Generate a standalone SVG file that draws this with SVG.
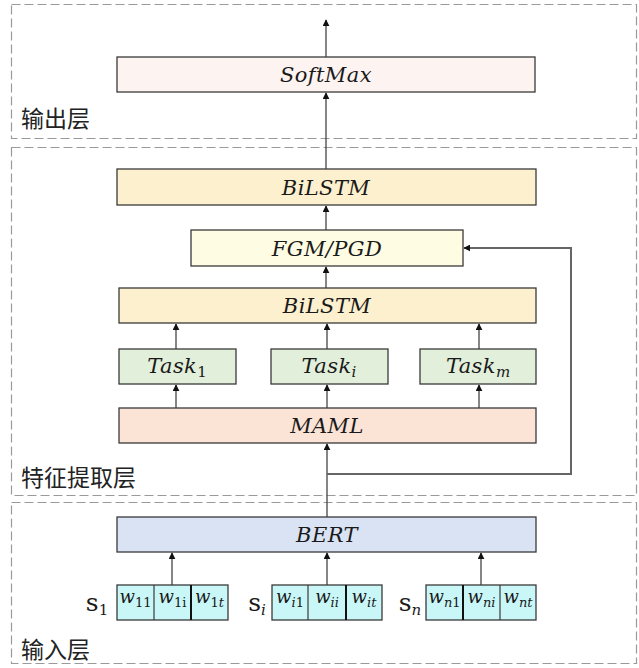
<svg xmlns="http://www.w3.org/2000/svg" width="639" height="668" viewBox="0 0 639 668">
  <style>
    .layer { fill: none; stroke: #9a9a9a; stroke-width: 1.2; stroke-dasharray: 9 4; }
    .box { stroke: #3a3a3a; stroke-width: 1.3; }
    .math { font-family: "DejaVu Serif", "Liberation Serif", serif; font-style: italic; font-size: 21px; letter-spacing: 0.4px; fill: #1a1a1a; text-anchor: middle; }
    .up { font-style: normal; }
    .sub { font-size: 15px; letter-spacing: 0; }
    .wsub { font-size: 13px; }
    .cell { font-family: "DejaVu Serif", "Liberation Serif", serif; font-style: italic; font-size: 18px; fill: #1a1a1a; text-anchor: middle; }
    .sname { font-family: "DejaVu Serif", "Liberation Serif", serif; font-size: 25px; fill: #1a1a1a; text-anchor: middle; }
    .lbl { font-family: "Noto Sans CJK SC", sans-serif; font-size: 23px; fill: #222; }
    .conn { fill: none; stroke: #444; stroke-width: 1.3; }
    .fb { fill: none; stroke: #666; stroke-width: 2; }
  </style>
  <defs>
    <marker id="arrow" viewBox="0 0 10 10" refX="9" refY="5" markerWidth="7" markerHeight="7" markerUnits="userSpaceOnUse" orient="auto">
      <path d="M0,0 L10,5 L0,10 z" fill="#111"/>
    </marker>
  </defs>

  <rect width="639" height="668" fill="#ffffff"/>

  <!-- layer frames -->
  <g id="layer-output">
    <rect class="layer" x="11.5" y="4.5" width="625" height="134"/>
    <text class="lbl" x="21" y="127">输出层</text>
  </g>
  <g id="layer-feature">
    <rect class="layer" x="11.5" y="147.5" width="625" height="348"/>
    <text class="lbl" x="21" y="486">特征提取层</text>
  </g>
  <g id="layer-input">
    <rect class="layer" x="11.5" y="502.5" width="625" height="161"/>
    <text class="lbl" x="21" y="658">输入层</text>
  </g>

  <!-- connectors -->
  <g id="connectors">
    <line class="conn" x1="326" y1="57" x2="326" y2="20" marker-end="url(#arrow)"/>
    <line class="conn" x1="326" y1="169" x2="326" y2="93" marker-end="url(#arrow)"/>
    <line class="conn" x1="326" y1="230" x2="326" y2="206" marker-end="url(#arrow)"/>
    <line class="conn" x1="326" y1="288" x2="326" y2="267" marker-end="url(#arrow)"/>
    <line class="conn" x1="176" y1="349" x2="176" y2="324" marker-end="url(#arrow)"/>
    <line class="conn" x1="327" y1="349" x2="327" y2="324" marker-end="url(#arrow)"/>
    <line class="conn" x1="479" y1="349" x2="479" y2="324" marker-end="url(#arrow)"/>
    <line class="conn" x1="176" y1="408" x2="176" y2="385" marker-end="url(#arrow)"/>
    <line class="conn" x1="327" y1="408" x2="327" y2="385" marker-end="url(#arrow)"/>
    <line class="conn" x1="479" y1="408" x2="479" y2="385" marker-end="url(#arrow)"/>
    <line class="conn" x1="327" y1="517" x2="327" y2="444" marker-end="url(#arrow)"/>
    <polyline class="fb" points="327,474 571,474 571,248 464,248" marker-end="url(#arrow)"/>
    <line class="conn" x1="172" y1="585" x2="172" y2="553" marker-end="url(#arrow)"/>
    <line class="conn" x1="327" y1="585" x2="327" y2="553" marker-end="url(#arrow)"/>
    <line class="conn" x1="481" y1="585" x2="481" y2="553" marker-end="url(#arrow)"/>
  </g>

  <!-- nodes -->
  <g id="softmax">
    <rect class="box" x="117" y="57" width="418" height="35" fill="#fdf3f1"/>
    <text class="math" x="326" y="82">SoftMax</text>
  </g>
  <g id="bilstm-top">
    <rect class="box" x="117" y="169" width="419" height="36" fill="#fdf0cf"/>
    <text class="math" x="326" y="195">BiLSTM</text>
  </g>
  <g id="fgm-pgd">
    <rect class="box" x="191" y="230" width="272" height="36" fill="#fefce3"/>
    <text class="math" x="327" y="256">FGM/PGD</text>
  </g>
  <g id="bilstm">
    <rect class="box" x="119" y="288" width="417" height="35" fill="#fdf0cf"/>
    <text class="math" x="327" y="313">BiLSTM</text>
  </g>
  <g id="task-1">
    <rect class="box" x="119" y="349" width="117" height="35" fill="#e2efda"/>
    <text class="math" x="177" y="373">Task<tspan class="sub up" dy="4">1</tspan></text>
  </g>
  <g id="task-i">
    <rect class="box" x="271" y="349" width="117" height="35" fill="#e2efda"/>
    <text class="math" x="329" y="373">Task<tspan class="sub" dy="4">i</tspan></text>
  </g>
  <g id="task-m">
    <rect class="box" x="420" y="349" width="116" height="35" fill="#e2efda"/>
    <text class="math" x="478" y="373">Task<tspan class="sub" dy="4">m</tspan></text>
  </g>
  <g id="maml">
    <rect class="box" x="119" y="408" width="417" height="35" fill="#fbe3d6"/>
    <text class="math" x="327" y="433">MAML</text>
  </g>
  <g id="bert">
    <rect class="box" x="117" y="517" width="419" height="35" fill="#dae3f3"/>
    <text class="math" x="327" y="542">BERT</text>
  </g>

  <!-- sentence 1 tokens -->
  <g id="sentence-1">
    <text class="sname" x="97" y="611">s<tspan class="sub" dy="4">1</tspan></text>
    <rect class="box" x="117" y="585" width="111" height="35" fill="#c9f7f8"/>
    <line x1="154" y1="585" x2="154" y2="620" stroke="#3a3a3a" stroke-width="1.2"/>
    <line x1="191" y1="585" x2="191" y2="620" stroke="#111" stroke-width="2"/>
    <text class="cell" x="135.5" y="603">w<tspan class="wsub up" dy="4">11</tspan></text>
    <text class="cell" x="172.5" y="603">w<tspan class="wsub up" dy="4">1i</tspan></text>
    <text class="cell" x="209.5" y="603">w<tspan class="wsub up" dy="4">1</tspan><tspan class="wsub">t</tspan></text>
  </g>
  <!-- sentence i tokens -->
  <g id="sentence-i">
    <text class="sname" x="257" y="611">s<tspan class="sub" font-style="italic" dy="4">i</tspan></text>
    <rect class="box" x="272" y="585" width="110" height="35" fill="#c9f7f8"/>
    <line x1="308" y1="585" x2="308" y2="620" stroke="#3a3a3a" stroke-width="1.2"/>
    <line x1="346" y1="585" x2="346" y2="620" stroke="#111" stroke-width="2"/>
    <text class="cell" x="290" y="603">w<tspan class="wsub" dy="4">i</tspan><tspan class="wsub up">1</tspan></text>
    <text class="cell" x="327" y="603">w<tspan class="wsub" dy="4">ii</tspan></text>
    <text class="cell" x="364" y="603">w<tspan class="wsub" dy="4">it</tspan></text>
  </g>
  <!-- sentence n tokens -->
  <g id="sentence-n">
    <text class="sname" x="410" y="611">s<tspan class="sub" font-style="italic" dy="4">n</tspan></text>
    <rect class="box" x="426" y="585" width="110" height="35" fill="#c9f7f8"/>
    <line x1="463" y1="585" x2="463" y2="620" stroke="#111" stroke-width="2"/>
    <line x1="500" y1="585" x2="500" y2="620" stroke="#3a3a3a" stroke-width="1.2"/>
    <text class="cell" x="444.5" y="603">w<tspan class="wsub" dy="4">n</tspan><tspan class="wsub up">1</tspan></text>
    <text class="cell" x="481.5" y="603">w<tspan class="wsub" dy="4">ni</tspan></text>
    <text class="cell" x="518" y="603">w<tspan class="wsub" dy="4">nt</tspan></text>
  </g>
</svg>
